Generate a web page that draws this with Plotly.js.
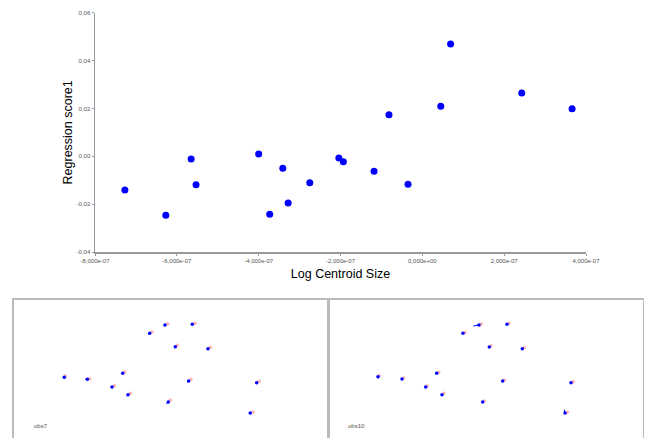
<!DOCTYPE html>
<html>
<head>
<meta charset="utf-8">
<script src="https://cdn.plot.ly/plotly-3.0.1.min.js"></script>
<style>
html,body{margin:0;padding:0;background:#fff;}
#chart{width:645px;height:438px;}
</style>
</head>
<body>
<div id="chart"></div>
<script>
// Main regression plot data
var logCentroidSize = [-7.27e-7,-6.27e-7,-5.65e-7,-5.53e-7,-4.00e-7,-3.73e-7,-3.41e-7,-3.28e-7,-2.75e-7,-2.04e-7,-1.93e-7,-1.18e-7,-0.815e-7,-0.35e-7,0.45e-7,0.69e-7,2.43e-7,3.66e-7];
var regressionScore1 = [-0.0141,-0.0246,-0.0011,-0.0119,0.0010,-0.0242,-0.0050,-0.0195,-0.0111,-0.0007,-0.0023,-0.0063,0.0174,-0.0117,0.0209,0.0469,0.0264,0.0199];

var xTickVals = [-8e-7,-6e-7,-4e-7,-2e-7,0,2e-7,4e-7];
var xTickText = ["-8,000e-07","-6,000e-07","-4,000e-07","-2,000e-07","0,000e+00","2,000e-07","4,000e-07"];
var yTickVals = [-0.04,-0.02,0,0.02,0.04,0.06];
var yTickText = ["-0,04","-0,02","0,00","0,02","0,04","0,06"];

// Landmark panels (panel-local coordinates)
var obs7X = [151.3,178.6,136.0,161.6,194.3,50.6,73.6,109.0,98.3,114.3,175.0,154.6,243.0,236.6];
var obs7Y = [25.3,24.6,33.6,47.0,49.0,77.6,79.6,73.6,87.3,95.0,81.3,102.3,83.0,113.3];
var obs7PinkX = [154.0,181.3,138.3,163.6,196.6,51.6,75.9,111.0,100.6,116.6,177.3,156.6,245.6,239.3];
var obs7PinkY = [24.0,23.6,32.3,45.6,47.6,76.3,79.0,72.3,86.0,93.6,79.6,100.3,81.6,112.3];
var obs7TailX = [150.0,177.6,134.6,160.6,193.3,50.3,71.6,108.3,97.6,113.0,173.6,152.6,242.0,235.0];
var obs7TailY = [26.0,25.0,34.6,48.6,50.0,79.3,79.6,74.3,88.0,96.6,82.6,104.3,83.6,113.6];

var obs10X = [150.3,178.3,134.3,160.6,193.6,49.3,73.3,108.0,97.0,113.3,174.0,154.0,242.3,236.3];
var obs10Y = [25.3,24.6,33.6,47.3,49.0,77.0,79.3,73.6,87.3,95.0,81.3,102.3,83.0,113.3];
var obs10PinkX = [152.6,180.3,136.3,162.3,195.6,50.6,75.0,110.0,98.6,115.0,175.6,155.6,244.6,238.6];
var obs10PinkY = [24.3,23.6,32.6,46.0,48.0,76.0,78.3,72.6,86.3,93.6,80.3,101.3,82.0,112.6];
var obs10TailX = [144.6,177.6,133.3,160.0,192.6,49.3,72.6,107.3,96.3,112.6,173.0,153.3,241.6,235.6];
var obs10TailY = [26.3,25.0,34.3,48.0,49.6,78.6,80.0,74.3,88.0,96.0,82.3,103.0,83.6,110.0];

var panelLabels = ["obs7","obs10"];

function segs(tx, ty, x, y){
  var sx=[], sy=[];
  for (var i=0;i<x.length;i++){ sx.push(tx[i], x[i], null); sy.push(ty[i], y[i], null); }
  return {x:sx, y:sy};
}

var traces = [{
  type:'scatter', mode:'markers', x:logCentroidSize, y:regressionScore1,
  marker:{color:'#0000ff', size:7}, xaxis:'x', yaxis:'y', hoverinfo:'skip'
}];

function addPanel(px, py, pinkX, pinkY, tailX, tailY, xa, ya){
  var s = segs(tailX, tailY, px, py);
  traces.push({type:'scatter', mode:'markers', x:pinkX, y:pinkY, marker:{color:'#ffb3b3', size:3.5}, xaxis:xa, yaxis:ya, hoverinfo:'skip'});
  traces.push({type:'scatter', mode:'lines', x:s.x, y:s.y, line:{color:'#0000ff', width:1}, xaxis:xa, yaxis:ya, hoverinfo:'skip', connectgaps:false});
  traces.push({type:'scatter', mode:'markers', x:px, y:py, marker:{color:'#0000ff', size:3.5}, xaxis:xa, yaxis:ya, hoverinfo:'skip'});
}
addPanel(obs7X, obs7Y, obs7PinkX, obs7PinkY, obs7TailX, obs7TailY, 'x2', 'y2');
addPanel(obs10X, obs10Y, obs10PinkX, obs10PinkY, obs10TailX, obs10TailY, 'x3', 'y3');

var font = 'Liberation Sans, Arial, sans-serif';
var panelAxis = {showline:true, mirror:true, linecolor:'#bbbbbb', linewidth:1.5, showticklabels:false, ticks:'', showgrid:false, zeroline:false, fixedrange:true};

var layout = {
  width:645, height:438,
  margin:{l:0, r:0, t:0, b:0},
  paper_bgcolor:'#ffffff', plot_bgcolor:'#ffffff',
  showlegend:false,
  font:{family:font, color:'#000'},
  xaxis:{domain:[95/645, 586/645], range:[-8e-7, 4e-7], tickvals:xTickVals, ticktext:xTickText,
    tickfont:{size:6, color:'#555'}, showline:true, linecolor:'#999', linewidth:1.5, ticks:'outside', ticklen:2, tickcolor:'#999',
    showgrid:false, zeroline:false, anchor:'y',
    title:{text:'Log Centroid Size', font:{size:12.5, color:'#000'}, standoff:6}},
  yaxis:{domain:[1-252/438, 1-12.7/438], range:[-0.04, 0.06], tickvals:yTickVals, ticktext:yTickText,
    tickfont:{size:6, color:'#555'}, showline:true, linecolor:'#999', linewidth:1.5, ticks:'outside', ticklen:2, tickcolor:'#999',
    showgrid:false, zeroline:false, anchor:'x',
    title:{text:'Regression score1', font:{size:12.5, color:'#000'}, standoff:1}},
  xaxis2:Object.assign({domain:[13.7/645, 328.7/645], range:[0,315], anchor:'y2'}, panelAxis),
  yaxis2:Object.assign({domain:[0, 1-299.7/438], range:[138.3,0], anchor:'x2'}, panelAxis),
  xaxis3:Object.assign({domain:[328.7/645, 642.7/645], range:[0,314], anchor:'y3'}, panelAxis),
  yaxis3:Object.assign({domain:[0, 1-299.7/438], range:[138.3,0], anchor:'x3'}, panelAxis),
  annotations:[
    {xref:'x2', yref:'y2', x:18.3, y:126, text:panelLabels[0], showarrow:false, xanchor:'left', yanchor:'middle', font:{size:6, color:'#555'}},
    {xref:'x3', yref:'y3', x:17.3, y:126, text:panelLabels[1], showarrow:false, xanchor:'left', yanchor:'middle', font:{size:6, color:'#555'}}
  ]
};

Plotly.newPlot('chart', traces, layout, {staticPlot:true, displayModeBar:false});
</script>
</body>
</html>
